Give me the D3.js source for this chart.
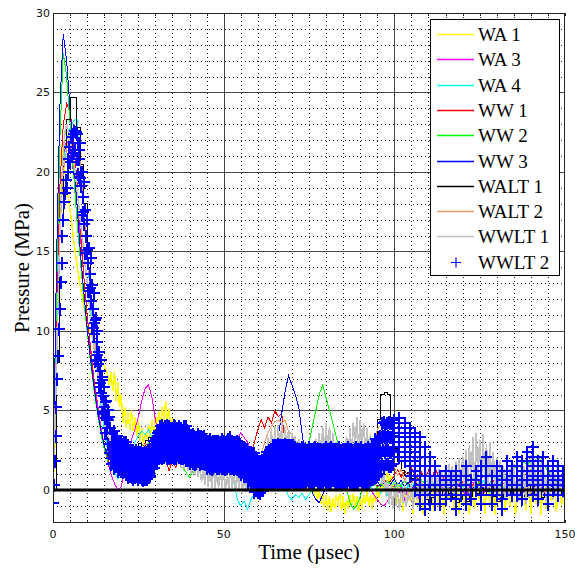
<!DOCTYPE html>
<html><head><meta charset="utf-8">
<script src="https://cdn.jsdelivr.net/npm/d3@7"></script>
<style>body{margin:0;background:#fff}svg{display:block}</style>
</head><body><svg id="c" width="575" height="569"></svg>
<script>
// ---------------- DATA ----------------
const seriesNames = ["WA 1","WA 3","WA 4","WW 1","WW 2","WW 3","WALT 1","WALT 2","WWLT 1","WWLT 2"];
const seriesColors = ["#ffff00","#ff00ff","#00ffff","#ff0000","#00ff00","#0000ff","#000000","#ef9a66","#c0c0c0","#0000ff"];
const xTicks = [0,50,100,150];
const yTicks = [0,5,10,15,20,25,30];
const xTitle = "Time (µsec)";
const yTitle = "Pressure (MPa)";

// WA 1, sampled every 0.5 µs from t = 0
const wa1 = [
0,2.5,7,13,19,21.8,21,20,19.2,18.4,
17.6,16.8,15.8,15,14.2,13.5,12.8,12.2,11.6,11.1,
10.6,10.2,9.9,9.6,9.3,9.0,8.8,8.5,8.3,8.0,
7.8,7.5,7.3,6.6,7.4,6.2,7.5,5.6,6.8,5.2,
6.0,4.2,5.2,3.9,4.9,3.8,5.0,3.7,4.6,3.4,
4.4,3.1,3.9,2.9,3.6,3.2,4.1,3.3,4.4,3.6,
4.7,3.9,4.9,4.1,5.2,4.3,5.6,4.4,5.1,3.9,
4.5,3.5,4.0,3.0,3.4,2.6,3.1,2.3,2.8,1.9,
2.4,1.5,2.1,1.2,1.9,1.3,2.2,1.6,2.5,1.9,
2.7,2.1,2.9,2.2,3.0,2.3,2.8,2.0,2.6,1.9,
2.5,2.0,2.7,2.1,2.8,2.2,2.9,2.3,3.0,2.4,
3.1,2.5,3.0,2.3,2.7,1.9,2.4,1.5,1.9,1.1,
1.4,0.7,1.0,0.4,0.9,0.6,1.3,1.0,1.8,1.4,
2.1,1.6,2.2,1.7,2.0,1.5,1.8,1.2,1.6,1.0,
1.4,0.8,1.2,0.6,1.0,0.4,0.8,0.2,0.6,0.0,
0.4,-0.2,0.2,-0.4,0.1,-0.6,0.0,-0.9,-0.2,-1.1,
-0.3,-1.3,-0.4,-1.4,-0.5,-1.2,-0.3,-1.0,-0.2,-1.3,
-0.4,-1.5,-0.6,-1.2,-0.3,-1.0,-0.2,-1.1,-0.4,-1.4,
-0.5,-1.2,-0.3,-0.9,-0.1,-1.0,-0.3,-1.2,-0.2,-0.8,
0.0,-0.5,0.4,-0.2,0.8,0.2,1.2,0.5,0.9,0.0,
0.6,0.2,-0.9,0.3,0.1,-1.3,0.2,0.0,-0.7,0.3,
0.1,-1.5,0.0,0.2,-1.0,0.1,0.3,-1.6,0.0,0.1,
-0.8,0.2,0.0,-1.4,0.1,0.3,-1.1,0.0,0.2,-1.6,
0.1,0.0,-0.6,0.2,0.1,-1.3,0.0,0.2,-1.5,0.1,
0.0,-0.9,0.3,0.1,-1.6,0.0,0.2,-1.2,0.1,0.0,
-0.7,0.2,0.1,-1.5,0.0,0.3,-1.0,0.1,0.0,-1.6,
0.2,0.1,-0.8,0.0,0.2,-1.4,0.1,0.0,-1.1,0.2,
0.1,-1.6,0.0,0.2,-0.6,0.1,0.0,-1.3,0.2,0.1,
-1.5,0.0,0.2,-0.9,0.1,0.0,-1.6,0.2,0.1,-1.2,
0.0,0.2,-0.7,0.1,0.0,-1.4,0.2,0.1,-1.0,0.0,
0.1];

// 1 µs sampling from t = 0
const wa3 = [
0,9,17,21,22,21.5,20,18,16,13.5,
11,9,7,5.5,4,2.8,1.8,1.0,0.4,0.0,
0.2,1.2,2.4,3.2,3.8,4.6,5.6,6.4,6.6,5.8,
4.4,3.2,3.8,3.4,4.1,3.6,3.2,2.8,2.4,2.6,
2.2,2.5,2.0,2.3,2.6,2.2,2.4,2.0,2.3,2.1,
2.4,2.0,2.6,2.9,3.2,3.6,3.3,3.0,2.4,1.8,
1.2,0.6,0.2,0.5,0.9,1.3,0.8,1.2,1.6,1.9,
2.2,2.4,2.6,2.5,2.8,2.6,2.4,2.0,1.6,1.2,
0.6,0.3,0.8,0.4,1.0,0.6,0.2,0.5,0.9,0.6,
1.0,0.7,0.3,0.0,-0.3,-0.6,-0.9,-1.0,-0.7,-0.2,
0.3,-0.4,0.2,-0.6,0.1,-0.3,0.4,-0.5,0.2,-0.2,
0.3,-0.1,0.4,-0.3,0.2,-0.5,0.1,0.3,-0.2,0.4,
0.0,-0.4,0.2,0.5,-0.1,0.3,-0.3,0.1,0.4,-0.2,
0.2,0.5,-0.1,0.3,0.0,-0.3,0.2,0.4,-0.2,0.1,
0.3,-0.1,0.5,0.2,-0.2,0.1,0.4,0.0,0.3,-0.1,
0.2];

const wa4 = [
0,10,17,20.5,22,22.8,23.2,23.4,21,18,
15,12,9.5,7.3,5.4,3.8,2.5,1.6,1.1,0.7,
0.9,1.3,2.0,2.6,3.0,3.4,3.7,3.5,3.8,3.3,
3.0,2.7,3.0,2.6,2.9,2.5,2.2,2.5,2.1,1.8,
2.0,1.7,1.9,1.6,1.8,1.5,1.7,1.4,1.2,1.5,
1.1,1.3,0.9,0.4,-0.6,-1.0,-0.7,-1.2,-0.6,-0.2,
0.3,0.1,0.5,0.9,1.3,0.8,0.4,0.6,0.2,-0.4,
-0.6,-0.3,-0.5,-0.2,-0.6,-0.3,0.1,0.4,0.2,0.6,
0.3,0.8,0.5,1.0,0.6,0.9,0.4,0.7,0.3,0.5,
0.2,0.4,0.1,0.3,-0.1,0.2,-0.2,0.1,-0.3,0.2,
0.5,0.1,0.4,-0.2,0.3,0.0,0.6,0.2,-0.1,0.4,
0.1,0.5,-0.2,0.3,0.0,0.4,0.2,-0.3,0.1,0.5,
0.2,0.0,0.3,-0.1,0.4,0.1,0.6,0.2,-0.2,0.3,
0.0,0.5,0.1,0.3,-0.1,0.2,0.6,0.1,0.4,-0.2,
0.3,0.0,0.5,0.2,0.4,-0.1,0.3,0.1,0.5,0.0,
0.2];

const ww1 = [
0,11,19,23,24.3,23.8,22,19.5,16.5,13.5,
11,8.8,6.8,5.0,3.6,2.6,2.0,1.4,1.8,1.2,
1.7,1.3,2.0,2.5,2.2,2.8,2.4,3.0,2.6,2.8,
2.3,2.0,1.6,2.0,1.2,1.9,1.4,2.1,1.6,2.3,
1.8,2.4,2.0,2.2,1.9,2.3,2.0,2.2,2.5,2.1,
2.4,2.0,2.2,1.9,2.1,1.8,2.0,1.6,2.0,3.0,
3.8,4.4,3.9,4.6,4.2,5.0,4.6,4.8,3.0,1.2,
0.5,0.3,0.6,0.2,0.5,0.1,0.4,0.8,0.3,0.6,
0.2,0.5,0.9,0.4,0.7,0.3,0.6,0.2,0.5,0.1,
0.4,0.2,0.6,0.3,0.5,0.2,0.4,0.7,0.3,0.6,
0.9,1.3,0.8,1.2,0.9,1.4,1.0,0.6,1.1,0.7,
1.2,0.8,1.3,0.9,0.5,1.0,0.6,0.9,0.4,0.8,
0.5,1.0,0.6,0.3,0.7,0.4,0.9,0.5,0.2,0.6,
0.3,0.7,0.4,0.8,0.5,0.2,0.6,0.3,0.7,0.4,
0.1,0.5,0.2,0.6,0.3,0.7,0.4,0.1,0.5,0.2,
0.4];

const ww2 = [
0,12,22,27.5,26,23,20,17,14.5,12,
10,8,6.3,4.8,3.6,2.6,1.8,1.4,1.9,1.5,
2.1,1.7,2.4,2.0,2.7,2.3,2.9,2.5,3.0,2.6,
3.0,2.7,2.9,2.5,2.7,2.3,2.0,1.7,1.4,1.1,
0.8,1.2,1.6,2.0,1.7,2.1,1.8,2.0,1.5,1.8,
2.2,1.9,2.3,2.0,2.2,1.8,1.5,1.2,1.6,1.0,
0.6,0.8,1.2,0.8,1.4,1.0,1.6,1.2,0.8,1.1,
1.4,1.8,2.1,2.4,2.7,3.0,4.0,5.0,6.0,6.6,
5.8,5.0,4.2,3.3,2.4,1.2,0.0,-0.8,-1.2,-1.0,
-0.4,0.2,0.6,0.2,0.5,0.1,0.4,0.2,0.6,0.3,
0.1,0.4,0.2,0.6,0.3,0.8,0.5,0.9,0.6,0.4,
0.7,0.3,0.6,0.2,0.5,0.1,0.4,0.0,0.3,0.5,
0.2,0.6,0.4,0.7,0.3,0.5,0.2,0.6,0.4,0.8,
0.5,0.9,0.6,1.0,0.7,1.3,1.6,1.4,1.8,1.5,
2.0,1.7,2.2,1.8,1.5,1.2,0.9,0.6,0.4,0.2,
0.3];

const ww3 = [
0,14,24,28.7,27,24,21,18,15,12.5,
10.2,8.2,6.5,5.0,3.8,2.8,2.2,1.8,1.5,1.8,
1.4,1.7,2.0,1.6,2.2,2.6,2.3,2.8,2.5,3.0,
2.7,3.1,2.8,3.0,2.6,2.9,2.5,2.7,2.3,2.5,
2.1,2.4,2.0,2.3,2.0,2.2,1.9,2.2,2.0,2.3,
2.0,2.2,1.9,2.1,1.8,2.0,1.7,1.4,1.1,0.7,
0.3,0.5,0.9,1.4,2.0,2.6,3.4,4.8,6.2,7.2,
6.6,6.0,5.2,3.5,2.0,0.8,-0.2,-0.6,-0.8,-0.3,
0.2,0.6,0.9,1.2,0.8,1.1,0.7,1.0,0.6,0.9,
0.5,0.8,0.4,0.7,0.3,0.6,0.2,0.5,0.1,0.4,
0.7,0.3,0.6,0.2,0.5,0.0,0.4,-0.2,0.3,-0.4,
0.2,-0.1,0.3,0.0,0.4,-0.2,0.2,-0.3,0.1,0.3,
-0.1,0.2,-0.4,0.1,0.3,0.0,0.2,-0.2,0.4,0.1,
-0.1,0.3,0.0,0.2,-0.3,0.1,0.4,0.0,0.2,-0.2,
0.3,0.1,-0.1,0.2,0.4,0.0,0.3,-0.2,0.1,0.2,
0.0];

const walt1 = [
0,8,17,21.5,23.3,24.7,24.7,22.8,20.5,18,
15,12,9.5,7.3,5.5,4.0,2.8,2.0,1.5,1.9,
1.5,2.0,2.4,2.1,2.6,2.9,2.7,3.1,3.3,3.1,
3.0,2.8,3.0,2.7,2.5,2.7,2.4,2.2,2.4,2.1,
2.3,2.0,2.2,1.9,2.1,1.8,2.0,1.7,1.9,1.6,
1.8,1.5,1.7,1.4,1.6,1.3,1.5,1.2,1.0,0.8,
0.6,0.9,1.3,1.6,1.9,2.2,2.4,2.6,2.3,2.5,
2.2,2.4,2.1,2.3,2.0,2.2,2.4,2.2,2.0,2.2,
2.4,2.1,1.9,2.1,1.8,2.0,1.7,1.9,1.6,1.8,
1.5,1.7,1.9,2.2,2.6,4.4,6.0,6.1,6.0,4.3,
2.6,1.8,1.2,0.9,1.1,0.7,0.4,0.1,-0.3,-0.6,
-0.8,-0.5,-0.2,0.0,-0.3,0.1,-0.2,-0.5,-0.8,-0.6,
-0.3,-0.7,-0.4,0.0,-0.2,0.1,-0.3,-0.1,0.2,-0.4,
-0.7,-0.5,-0.2,0.0,-0.3,0.1,-0.2,0.0,-0.4,-0.1,
0.2,-0.2,0.0,-0.5,-0.2,0.1,-0.1,0.2,-0.3,0.0,
-0.1];

const walt2 = [
0,9,16,20,21.5,22.3,22.6,22.4,20.5,18,
15,12.3,10,8,6.2,4.8,3.6,2.8,2.2,1.8,
2.0,1.7,2.2,2.5,2.3,2.7,2.4,2.9,2.6,3.0,
2.8,3.1,2.7,2.9,2.5,2.8,2.4,2.6,2.2,2.5,
2.1,2.4,2.0,2.3,1.9,2.2,1.8,2.1,1.9,2.2,
2.0,2.3,1.9,2.1,1.7,1.9,1.5,1.2,1.0,1.2,
1.5,2.2,3.0,3.6,4.0,4.3,4.4,4.2,4.4,3.7,
3.5,3.0,2.5,1.9,2.2,2.0,2.3,2.1,2.4,2.2,
2.0,2.3,2.1,1.9,2.2,2.0,1.8,2.1,1.9,2.2,
2.0,1.8,2.1,2.3,2.5,3.8,4.1,3.0,1.9,2.2,
1.5,0.9,1.3,0.6,1.0,0.4,0.8,0.2,0.5,-0.1,
0.3,0.0,0.4,-0.2,0.2,0.5,0.1,-0.1,0.3,0.0,
0.4,0.1,-0.2,0.2,0.5,0.0,0.3,-0.1,0.2,0.4,
0.0,0.3,-0.2,0.1,0.4,0.2,-0.1,0.3,0.0,0.2,
-0.2,0.1,0.3,0.0,0.4,0.1,-0.1,0.2,0.0,0.3,
0.1];

// WWLT 1, sampled every 0.5 µs from t = 0
const wwlt1 = [
0,3,8,12,16,19,21,22.5,23,22.5,
22,21.5,20.8,20,19,18,17,16,15,14,
13,12,11,10,9,8.2,7.4,6.6,5.8,5.2,
4.6,3.2,4.0,2.4,3.4,1.8,3.0,1.4,2.6,1.2,
2.2,1.0,2.0,0.9,1.9,0.8,1.8,0.7,1.9,0.6,
2.0,0.7,2.1,0.8,2.2,1.0,2.3,1.5,2.6,1.7,
2.7,1.8,2.8,1.7,2.6,1.8,2.7,1.7,2.5,1.8,
2.6,1.6,2.4,1.6,2.3,1.4,2.2,1.3,2.0,1.2,
1.9,1.0,1.8,0.9,1.7,0.8,1.6,0.5,1.5,0.3,
1.6,0.2,1.7,0.1,1.6,0.0,1.5,0.1,1.6,0.0,
1.4,-0.1,1.3,0.0,1.4,0.1,1.3,-0.1,1.2,0.0,
1.3,-0.2,1.1,-0.1,1.0,0.0,0.9,-0.2,0.6,0.0,
0.4,0.3,1.5,0.8,2.5,1.2,3.3,1.5,3.8,1.6,
4.0,1.8,4.1,2.0,4.2,2.2,4.0,2.3,3.8,2.4,
3.6,2.2,3.4,2.0,3.2,1.8,2.9,1.6,2.6,1.4,
2.5,1.5,2.8,1.7,3.2,1.8,3.6,2.0,4.0,2.2,
4.2,2.3,4.0,2.2,3.6,2.0,3.0,1.8,2.6,1.6,
2.8,1.8,3.4,2.0,3.9,2.3,4.3,2.5,4.6,2.6,
4.4,2.5,4.2,2.4,3.9,2.2,3.5,2.0,3.0,1.5,
2.4,1.0,1.8,0.3,1.0,-0.4,0.6,-0.9,0.3,-1.2,
0.2,-1.0,0.4,-1.3,0.1,-0.8,0.3,-1.1,0.0,-0.7,
0.4,-1.2,0.2,-0.6,0.5,-0.9,0.3,-0.4,0.6,-0.5,
0.8,-0.3,1.0,-0.2,1.1,-0.4,1.3,-0.3,1.1,-0.2,
1.4,-0.5,1.6,-0.1,1.5,-0.4,1.8,0.0,2.0,-0.3,
2.2,0.2,2.5,0.0,2.8,0.4,3.3,0.2,3.6,0.6,
3.2,0.3,3.5,0.5,2.9,0.1,3.0,0.4,2.4,-0.2,
2.0,-0.4,1.8,0.0,1.5,-0.6,1.7,-0.3,1.4,-0.8,
1.6,-0.4,1.3,-0.7,1.2,-0.2,1.5,-0.9,1.8,-0.5,
2.2,-0.3,1.9,-0.6,1.4,-0.8,1.7,-0.4,1.2,-0.7,
1.5,-0.3,1.3,-0.6,1.0,-0.4,1.4,-0.2,0.9,-0.5,
0.6];

// WWLT 2 (markers), t = 0..6.75 every 0.25 µs (one row = 1 µs)
const wwlt2Early = [
-0.8,0.3,1.8,3.4,
5.2,7.0,8.4,10.1,
11.4,13.1,14.3,16.0,
17.0,18.1,18.7,19.5,
19.0,20.8,20.0,21.6,
20.6,22.2,21.0,22.4,
21.2,22.6,21.4,22.5];

// WWLT 2, t = 7..16.875 every 0.125 µs (one row = 1 µs)
const wwlt2Decay = [
22.4,20.8,21.8,19.9,21.4,19.7,20.8,19.6,
21.8,19.1,20.0,17.3,20.0,17.3,18.4,17.5,
19.4,16.7,17.6,14.9,17.6,14.9,16.0,15.1,
17.0,14.3,15.2,12.5,15.2,12.5,13.6,12.7,
14.6,11.9,12.9,10.2,12.9,10.2,11.4,10.5,
12.4,9.8,10.7,8.1,10.8,8.2,9.3,8.5,
10.0,7.9,8.7,6.5,8.7,6.5,7.5,6.7,
8.2,6.1,6.9,4.8,7.1,4.9,5.9,5.2,
6.5,4.5,5.5,3.6,5.6,3.6,4.5,3.9,
5.0,2.9,4.4,2.3,4.6,2.5,3.9,2.0];

// WWLT 2, t = 17..99.875 every 0.125 µs (one row = 1 µs)
const wwlt2Band = [
1.6,2.3,2.9,3.6,1.7,2.3,3.0,3.7,
1.4,2.0,2.7,3.3,1.5,2.1,2.7,3.4,
1.2,1.8,2.4,3.0,1.3,1.9,2.5,3.1,
1.2,1.8,2.4,2.9,1.1,1.7,2.4,3.0,
1.2,1.8,2.4,3.0,1.0,1.6,2.2,2.8,
0.8,1.3,1.9,2.4,0.9,1.4,2.0,2.5,
0.8,1.4,1.9,2.4,0.7,1.3,1.8,2.4,
0.8,1.3,1.9,2.5,0.9,1.4,1.9,2.4,
0.7,1.3,1.8,2.4,0.8,1.3,1.9,2.4,
0.7,1.2,1.8,2.3,0.6,1.2,1.8,2.4,
0.7,1.3,1.8,2.4,0.7,1.3,1.9,2.5,
0.8,1.4,2.0,2.6,0.9,1.5,2.1,2.7,
1.3,1.9,2.5,3.1,1.4,2.0,2.6,3.2,
1.8,2.4,3.0,3.6,1.9,2.5,3.1,3.7,
2.0,2.7,3.3,4.0,2.1,2.7,3.4,4.1,
2.0,2.6,3.3,3.9,2.1,2.8,3.4,4.0,
2.2,2.8,3.5,4.1,2.0,2.7,3.3,4.0,
2.0,2.6,3.3,3.9,2.1,2.7,3.3,3.9,
2.1,2.8,3.4,4.1,2.0,2.6,3.3,4.0,
2.0,2.7,3.3,3.9,2.2,2.8,3.4,4.0,
2.1,2.7,3.3,3.9,2.0,2.6,3.2,3.8,
2.0,2.7,3.3,4.0,2.1,2.8,3.4,4.0,
1.9,2.6,3.2,3.8,1.9,2.5,3.1,3.7,
1.7,2.3,2.8,3.4,1.8,2.4,2.9,3.5,
1.7,2.3,2.8,3.4,1.6,2.2,2.8,3.3,
1.7,2.3,2.9,3.5,1.8,2.3,2.9,3.4,
1.6,2.2,2.8,3.4,1.7,2.3,2.8,3.3,
1.7,2.3,2.8,3.4,1.6,2.1,2.7,3.2,
1.4,2.0,2.5,3.1,1.5,2.1,2.6,3.2,
1.4,2.0,2.5,3.0,1.3,1.9,2.5,3.1,
1.4,2.0,2.6,3.1,1.5,2.0,2.6,3.1,
1.4,2.0,2.5,3.1,1.4,1.9,2.5,3.0,
1.5,2.0,2.6,3.2,1.4,2.0,2.5,3.1,
1.4,1.9,2.5,3.0,1.3,1.9,2.5,3.1,
1.4,2.0,2.6,3.2,1.5,2.1,2.7,3.3,
1.4,2.0,2.5,3.1,1.4,2.0,2.5,3.0,
1.3,1.9,2.5,3.0,1.4,2.0,2.6,3.1,
1.3,1.9,2.4,3.0,1.2,1.8,2.4,2.9,
1.0,1.6,2.1,2.7,1.1,1.6,2.2,2.7,
1.0,1.5,2.1,2.6,0.9,1.5,2.0,2.6,
0.5,1.1,1.8,2.4,0.6,1.2,1.8,2.4,
0.5,1.1,1.7,2.3,0.4,1.0,1.7,2.3,
-0.1,0.6,1.2,1.9,0.0,0.6,1.3,1.9,
-0.1,0.5,1.2,1.8,-0.2,0.5,1.1,1.8,
0.0,0.6,1.3,1.9,0.0,0.7,1.3,2.0,
0.2,0.9,1.7,2.4,0.3,1.0,1.7,2.4,
0.3,1.0,1.8,2.5,0.4,1.1,1.9,2.6,
0.5,1.3,2.1,2.8,0.5,1.3,2.0,2.8,
0.5,1.2,2.0,2.8,0.5,1.3,2.1,2.9,
0.5,1.3,2.1,2.8,0.5,1.2,2.0,2.8,
0.5,1.3,2.1,2.8,0.5,1.3,2.1,2.9,
0.5,1.2,2.0,2.8,0.5,1.3,2.1,2.8,
0.5,1.3,2.1,2.8,0.5,1.2,2.0,2.8,
0.5,1.2,2.0,2.8,0.5,1.2,1.9,2.7,
0.5,1.2,1.9,2.6,0.4,1.1,1.9,2.6,
0.5,1.2,1.9,2.6,0.5,1.2,2.0,2.7,
0.4,1.1,1.9,2.6,0.5,1.2,1.9,2.6,
0.5,1.2,1.9,2.5,0.6,1.3,2.0,2.7,
0.5,1.2,1.9,2.6,0.4,1.1,1.8,2.6,
0.5,1.2,1.9,2.6,0.5,1.2,2.0,2.7,
0.6,1.3,2.0,2.6,0.5,1.2,1.9,2.6,
0.4,1.1,1.9,2.6,0.5,1.2,1.9,2.5,
0.5,1.2,1.9,2.6,0.6,1.3,2.0,2.7,
0.5,1.2,1.9,2.6,0.4,1.1,1.8,2.6,
0.5,1.2,2.0,2.7,0.5,1.2,1.9,2.6,
0.6,1.3,1.9,2.6,0.5,1.2,1.9,2.6,
0.4,1.1,1.9,2.6,0.5,1.2,2.0,2.7,
0.5,1.2,1.9,2.5,0.5,1.2,1.9,2.6,
0.5,1.2,1.9,2.6,0.4,1.1,1.8,2.6,
0.5,1.2,2.0,2.7,0.6,1.3,2.0,2.6,
0.5,1.2,1.9,2.6,0.5,1.2,1.9,2.5,
0.4,1.1,1.9,2.6,0.5,1.2,2.0,2.7,
0.5,1.2,1.9,2.6,0.5,1.2,1.9,2.6,
0.6,1.3,2.0,2.7,0.5,1.2,1.8,2.5,
0.5,1.2,1.9,2.6,0.4,1.1,1.9,2.6,
0.5,1.2,2.0,2.7,0.5,1.2,1.9,2.6,
0.6,1.3,2.0,2.8,0.7,1.4,2.2,2.9,
0.8,1.6,2.4,3.2,0.8,1.6,2.4,3.1,
0.9,1.7,2.5,3.3,1.0,1.8,2.6,3.4,
1.5,2.4,3.3,4.2,1.6,2.5,3.4,4.3,
1.5,2.4,3.3,4.1,1.6,2.5,3.3,4.2,
1.6,2.5,3.4,4.3,1.5,2.4,3.3,4.2,
1.5,2.4,3.3,4.2,1.6,2.5,3.4,4.4];

// WWLT 2 after 100 µs: sample times and the values recorded at each time
const wwlt2LateTimes = [100,101.5,103,104.5,106,107.5,109,110.5,112,113.5,115,116.5,118,119.5,121,122.5,124,
  125.5,127,128.5,130,131.5,133,134.5,136,137.5,139,140.5,142,143.5,145,146.5,148,149.5];
const wwlt2LateValues = [
  [4.2,3.6,3.0,2.4], [4.5,3.9,3.3,2.7,2.1], [4.2,3.6,3.0,2.4,1.8], [3.9,3.3,2.7,2.1,1.5,0.9],
  [3.6,3.0,2.4,1.8,1.2,0.6,0.0], [3.3,2.7,2.1,1.5,0.9,0.3,-0.3,-0.9], [2.7,2.1,1.5,0.9,0.3,-0.3,-0.9,-1.2],
  [2.1,1.5,0.9,0.3,-0.3,-0.9], [1.5,0.9,0.3,-0.3,-0.9], [0.9,0.3,-0.3,-0.9], [1.2,0.6,0.0,-0.6],
  [0.9,0.3,-0.3], [1.2,0.6,0.0,-0.6,-1.2], [0.9,0.3,-0.3], [1.5,0.9,0.3,-0.3,-0.9], [0.6,0.0,-0.6],
  [1.2,0.6,0.0], [1.5,0.9,0.3,-0.3,-0.9], [2.1,1.5,0.9,0.3], [0.9,0.3,-0.3,-0.9], [1.5,0.9,0.3,-0.3],
  [1.2,0.6,0.0,-0.6,-1.2], [1.8,1.2,0.6,0.0], [1.5,0.9,0.3,-0.3], [2.1,1.5,0.9,0.3,-0.3],
  [1.8,1.2,0.6,0.0,-0.6], [2.4,1.8,1.2,0.6], [2.7,2.1,1.5,0.9,0.3,-0.3], [1.8,1.2,0.6,0.0,-0.6],
  [2.1,1.5,0.9,0.3], [1.5,0.9,0.3,-0.3,-0.9], [1.8,1.2,0.6,0.0], [1.5,0.9,0.3,-0.3], [1.2,0.6,0.0]];

// ---------------- CHART ----------------
const W = 575, H = 569;
const P = {l:53, r:565, t:13, b:523};
const x = d3.scaleLinear().domain([0,150]).range([P.l,P.r]);
const y = d3.scaleLinear().domain([-2.08,30]).range([P.b,P.t]);
const svg = d3.select("#c");
const serif = "'Liberation Serif','Times New Roman',serif";

svg.append("rect").attr("width",W).attr("height",H).attr("fill","#fff");
svg.append("defs").append("clipPath").attr("id","clip").append("rect")
  .attr("x",P.l).attr("y",P.t).attr("width",P.r-P.l).attr("height",P.b-P.t);

const sx = v => Math.round(x(v)) + 0.5;
const sy = v => Math.round(y(v)) + 0.5;

// minor dotted grid
const grid = svg.append("g");
d3.range(5,150,5).filter(v => v % 50 !== 0).forEach(v => {
  grid.append("line").attr("x1",sx(v)).attr("x2",sx(v)).attr("y1",P.t).attr("y2",P.b)
    .attr("stroke","#222").attr("stroke-dasharray","1,3");
});
d3.range(-1,30,1).filter(v => v % 5 !== 0).forEach(v => {
  grid.append("line").attr("y1",sy(v)).attr("y2",sy(v)).attr("x1",P.l).attr("x2",P.r)
    .attr("stroke","#222").attr("stroke-dasharray","1,3");
});
// major solid grid
xTicks.filter(v => v > 0 && v < 150).forEach(v => {
  grid.append("line").attr("x1",sx(v)).attr("x2",sx(v)).attr("y1",P.t).attr("y2",P.b)
    .attr("stroke","#444");
});
yTicks.filter(v => v > 0 && v < 30).forEach(v => {
  grid.append("line").attr("y1",sy(v)).attr("y2",sy(v)).attr("x1",P.l).attr("x2",P.r)
    .attr("stroke","#444");
});

// series definitions
const even = (t0, dt, vals) => vals.map((v,i) => ({t: t0 + i*dt, v}));
const latePts = wwlt2LateTimes.flatMap((t,i) => wwlt2LateValues[i].map(v => ({t, v})));
const series = [
  {pts:[even(0,0.5,wa1)], w:1.5},
  {pts:[even(0,1,wa3)]},
  {pts:[even(0,1,wa4)]},
  {pts:[even(0,1,ww1)]},
  {pts:[even(0,1,ww2)]},
  {pts:[even(0,1,ww3)]},
  {pts:[even(0,1,walt1)], step:true},
  {pts:[even(0,1,walt2)]},
  {pts:[even(0,0.5,wwlt1)], w:1.6},
  {pts:[even(0,0.25,wwlt2Early), even(7,0.125,wwlt2Decay), even(17,0.125,wwlt2Band), latePts], marker:true}
].map((s,i) => Object.assign(s, {name:seriesNames[i], color:seriesColors[i]}));

const dataG = svg.append("g").attr("clip-path","url(#clip)");

series.forEach(s => {
  if (s.marker) {
    let d = "";
    s.pts.forEach(arr => arr.forEach(p => {
      const cx = Math.round(x(p.t)), cy = Math.round(y(p.v));
      d += `M${cx-5},${cy}H${cx+6}M${cx},${cy-6}V${cy+7}`;
    }));
    dataG.append("path").attr("d",d).attr("fill","none")
      .attr("stroke",s.color).attr("stroke-width",2.4).attr("shape-rendering","crispEdges");
  } else {
    const line = d3.line().x(p => x(p.t)).y(p => y(p.v))
      .curve(s.step ? d3.curveStepAfter : d3.curveLinear);
    s.pts.forEach(arr => {
      dataG.append("path").datum(arr).attr("d",line).attr("fill","none")
        .attr("stroke",s.color).attr("stroke-width",s.w || 1).attr("shape-rendering","crispEdges");
    });
  }
});

// thick zero line
svg.append("line").attr("x1",P.l).attr("x2",P.r).attr("y1",y(0)).attr("y2",y(0))
  .attr("stroke","#000").attr("stroke-width",3);

// frame
svg.append("rect").attr("x",P.l+0.5).attr("y",P.t+0.5)
  .attr("width",P.r-P.l-1).attr("height",P.b-P.t-1)
  .attr("fill","none").attr("stroke","#222");

// small inward ticks
const tk = svg.append("g").attr("stroke","#222");
d3.range(0,151,5).forEach(v => {
  tk.append("line").attr("x1",sx(v)).attr("x2",sx(v)).attr("y1",P.b).attr("y2",P.b-3);
  tk.append("line").attr("x1",sx(v)).attr("x2",sx(v)).attr("y1",P.t).attr("y2",P.t+3);
});

// tick labels
const tickFont = "'DejaVu Sans',sans-serif";
svg.append("g").selectAll("text").data(xTicks).join("text")
  .attr("x",d => x(d)).attr("y",538).attr("text-anchor","middle")
  .attr("font-family",tickFont).attr("font-size",11).attr("fill","#111").text(d => d);
svg.append("g").selectAll("text").data(yTicks).join("text")
  .attr("x",50).attr("y",d => y(d)).attr("dy","0.36em").attr("text-anchor","end")
  .attr("font-family",tickFont).attr("font-size",11).attr("fill","#111").text(d => d);

// axis titles
svg.append("text").attr("x",(P.l+P.r)/2).attr("y",559).attr("text-anchor","middle")
  .attr("font-family",serif).attr("font-size",21).attr("fill","#000").text(xTitle);
svg.append("text").attr("transform",`translate(29,${(P.t+P.b)/2}) rotate(-90)`)
  .attr("text-anchor","middle").attr("font-family",serif).attr("font-size",21)
  .attr("fill","#000").text(yTitle);

// legend
const L = {x:430, y:19, w:129, h:256, step:25.3, first:34};
const lg = svg.append("g");
lg.append("rect").attr("x",L.x+0.5).attr("y",L.y+0.5).attr("width",L.w).attr("height",L.h)
  .attr("fill","#fff").attr("stroke","#000");
series.forEach((s,i) => {
  const cy = Math.round(L.first + i*L.step) + 0.5;
  if (s.marker) {
    lg.append("path").attr("d",`M${451},${cy}H${461}M${456},${cy-5}V${cy+5}`)
      .attr("stroke",s.color).attr("stroke-width",1.2).attr("fill","none");
  } else {
    lg.append("line").attr("x1",437).attr("x2",474).attr("y1",cy).attr("y2",cy)
      .attr("stroke",s.color).attr("stroke-width",1.5);
  }
  lg.append("text").attr("x",478).attr("y",cy+6.5).attr("font-family",serif)
    .attr("font-size",19).attr("fill","#000").text(s.name);
});
</script>
</body></html>
